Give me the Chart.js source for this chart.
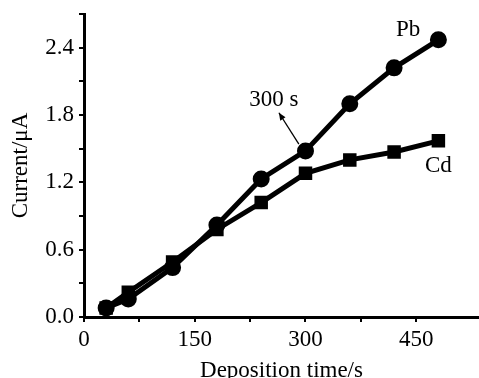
<!DOCTYPE html>
<html>
<head>
<meta charset="utf-8">
<script src="https://cdn.jsdelivr.net/npm/chart.js@4/dist/chart.umd.min.js"></script>
<style>
  html, body { margin: 0; padding: 0; background: #fff; }
  #wrap { width: 479px; height: 378px; }
</style>
</head>
<body>
<div id="wrap"><canvas id="c"></canvas></div>
<script>
const times = [30, 60, 120, 180, 240, 300, 360, 420, 480];
const pbCurrent = [0.08, 0.16, 0.44, 0.82, 1.23, 1.48, 1.90, 2.22, 2.47];
const cdCurrent = [0.08, 0.22, 0.49, 0.78, 1.02, 1.28, 1.40, 1.47, 1.57];
const xLabels = [0, 150, 300, 450];
const yLabels = [0.0, 0.6, 1.2, 1.8, 2.4];

const FONT = '"Liberation Serif", "Times New Roman", serif';

const toPoints = (ys) => times.map((t, i) => ({ x: t, y: ys[i] }));

const notes = {
  id: 'notes',
  afterDatasetsDraw(chart) {
    const { ctx, scales: { x, y } } = chart;
    ctx.save();
    ctx.fillStyle = '#000';
    ctx.font = '23px ' + FONT;
    ctx.textAlign = 'center';
    ctx.textBaseline = 'middle';
    ctx.fillText('Pb', x.getPixelForValue(439), y.getPixelForValue(2.56));
    ctx.fillText('Cd', x.getPixelForValue(480), y.getPixelForValue(1.35));
    ctx.fillText('300 s', x.getPixelForValue(257), y.getPixelForValue(1.93));
    // arrow pointing to the 300 s point
    const x0 = x.getPixelForValue(291), y0 = y.getPixelForValue(1.54);
    const x1 = x.getPixelForValue(264), y1 = y.getPixelForValue(1.82);
    ctx.strokeStyle = '#000';
    ctx.lineWidth = 1.3;
    ctx.beginPath();
    ctx.moveTo(x0, y0);
    ctx.lineTo(x1, y1);
    ctx.stroke();
    const a = Math.atan2(y1 - y0, x1 - x0);
    ctx.beginPath();
    ctx.moveTo(x1, y1);
    ctx.lineTo(x1 - 8 * Math.cos(a - 0.4), y1 - 8 * Math.sin(a - 0.4));
    ctx.lineTo(x1 - 8 * Math.cos(a + 0.4), y1 - 8 * Math.sin(a + 0.4));
    ctx.closePath();
    ctx.fill();
    ctx.restore();
  }
};

new Chart(document.getElementById('c'), {
  type: 'scatter',
  data: {
    datasets: [{
      label: 'Pb',
      data: toPoints(pbCurrent),
      showLine: true,
      borderColor: '#000',
      backgroundColor: '#000',
      borderWidth: 5,
      pointStyle: 'circle',
      pointRadius: 6,
    }, {
      label: 'Cd',
      data: toPoints(cdCurrent),
      showLine: true,
      borderColor: '#000',
      backgroundColor: '#000',
      borderWidth: 5,
      pointStyle: 'rect',
      pointRadius: 6,
    }]
  },
  options: {
    responsive: true,
    maintainAspectRatio: false,
    animation: false,
    layout: { autoPadding: false, padding: { top: 14, right: 0, left: 0, bottom: 0 } },
    plugins: { legend: { display: false }, tooltip: { enabled: false } },
    scales: {
      x: {
        type: 'linear',
        min: 0,
        max: 535,
        afterBuildTicks: (s) => { s.ticks = s.ticks.filter(t => t.value % 75 === 0); },
        afterFit: (s) => { s.height = 61; s.paddingLeft = 0; s.paddingRight = 0; },
        ticks: {
          stepSize: 75,
          autoSkip: false,
          maxRotation: 0,
          color: '#000',
          font: { family: FONT, size: 23 },
          padding: 4,
          callback: (v) => xLabels.includes(v) ? String(v) : '',
        },
        grid: { drawOnChartArea: false, drawTicks: true, tickLength: 5, color: '#000', lineWidth: 2 },
        border: { color: '#000', width: 3 },
        title: { display: true, text: 'Deposition time/s', color: '#000', font: { family: FONT, size: 23 }, padding: { top: 0, bottom: -7 } },
      },
      y: {
        min: 0,
        max: 2.7,
        afterBuildTicks: (s) => {
          s.ticks = [];
          for (let i = 0; i <= 9; i++) s.ticks.push({ value: Math.round(i * 3) / 10 });
        },
        afterFit: (s) => { s.width = 84; s.paddingTop = 0; s.paddingBottom = 0; },
        ticks: {
          color: '#000',
          font: { family: FONT, size: 23 },
          padding: 5,
          callback: (v) => yLabels.some(l => Math.abs(l - v) < 1e-6) ? v.toFixed(1) : '',
        },
        grid: { drawOnChartArea: false, drawTicks: true, tickLength: 5, color: '#000', lineWidth: 2 },
        border: { color: '#000', width: 3 },
        title: { display: true, text: 'Current/μA', color: '#000', font: { family: FONT, size: 23 }, padding: { top: 7, bottom: 4 } },
      }
    }
  },
  plugins: [notes]
});
</script>
</body>
</html>
